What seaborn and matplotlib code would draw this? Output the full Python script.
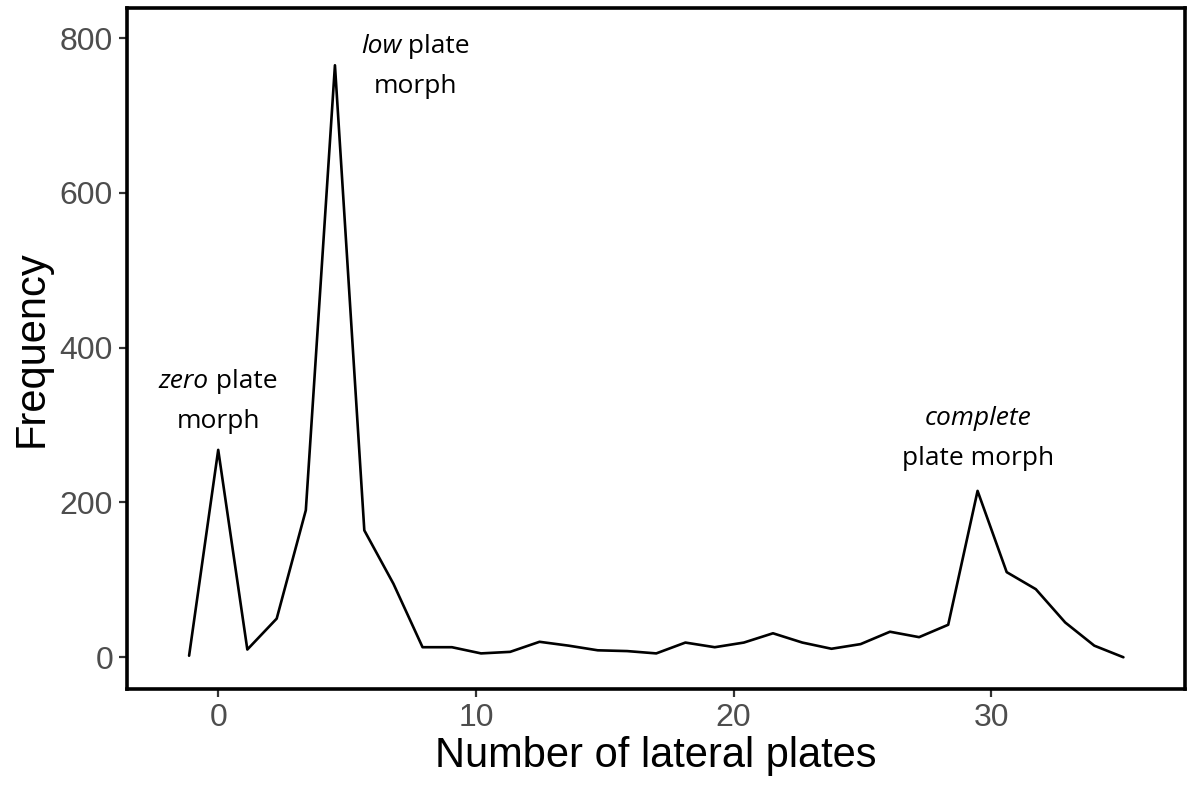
import matplotlib
matplotlib.use("Agg")
import matplotlib.pyplot as plt
import seaborn as sns
import pandas as pd

# Frequency polygon of lateral plate counts (bin centres)
plate_bins = [-1.13, 0.00, 1.13, 2.27, 3.40, 4.53, 5.67, 6.80, 7.93, 9.07,
              10.20, 11.33, 12.47, 13.60, 14.73, 15.87, 17.00, 18.13, 19.27,
              20.40, 21.53, 22.67, 23.80, 24.93, 26.07, 27.20, 28.33, 29.47,
              30.60, 31.73, 32.87, 34.00, 35.13]
frequency = [2, 268, 10, 50, 190, 765, 164, 95, 13, 13,
             5, 7, 20, 15, 9, 8, 5, 19, 13,
             19, 31, 19, 11, 17, 33, 26, 42, 215,
             110, 88, 45, 15, 0]

x_ticks = [0, 10, 20, 30]
y_ticks = [0, 200, 400, 600, 800]

# Morph labels: (x, y, italic word, rest of first line, second line)
morph_labels = [
    (0.0, 331, "zero", " plate", "morph"),
    (7.65, 763, "low", " plate", "morph"),
    (29.5, 283, "complete", "", "plate morph"),
]

df = pd.DataFrame({"plates": plate_bins, "freq": frequency})

sns.set_theme(style="white")
plt.rcParams["font.family"] = ["Liberation Sans", "DejaVu Sans"]

fig = plt.figure(figsize=(11.92, 7.89), dpi=100)
ax = fig.add_axes([127 / 1192, 1 - 689 / 789, (1185 - 127) / 1192, (689 - 8) / 789])

sns.lineplot(data=df, x="plates", y="freq", color="black", linewidth=1.9, ax=ax)

ax.set_xlim(-3.54, 37.52)
ax.set_ylim(-41, 839)
ax.set_xticks(x_ticks)
ax.set_yticks(y_ticks)
ax.tick_params(axis="both", which="both", length=6, width=1.6, color="#333333",
               labelsize=23, labelcolor="#4D4D4D", pad=4, bottom=True, left=True)

for side in ax.spines.values():
    side.set_color("black")
    side.set_linewidth(2.6)

ax.set_xlabel("Number of lateral plates", fontsize=30, labelpad=2, color="black")
ax.set_ylabel("Frequency", fontsize=30, labelpad=6, color="black")

# Annotation text, first line partly italic
ann_font = ["Open Sans", "DejaVu Sans"]
fs = 19
for xc, yc, ital, rest, line2 in morph_labels:
    # measure widths so the mixed-style first line stays centred
    t1 = ax.text(0, 0, ital, fontsize=fs, style="italic", family=ann_font)
    t2 = ax.text(0, 0, rest, fontsize=fs, family=ann_font)
    fig.canvas.draw()
    r = fig.canvas.get_renderer()
    w1 = t1.get_window_extent(r).width
    w2 = t2.get_window_extent(r).width if rest else 0
    t1.remove()
    t2.remove()
    cx, cy = ax.transData.transform((xc, yc))
    line_gap = 20
    left = cx - (w1 + w2) / 2
    ax.text(left, cy + line_gap, ital, fontsize=fs, style="italic", family=ann_font,
            ha="left", va="center", color="black", transform=None)
    if rest:
        ax.text(left + w1, cy + line_gap, rest, fontsize=fs, family=ann_font,
                ha="left", va="center", color="black", transform=None)
    ax.text(cx, cy - line_gap, line2, fontsize=fs, family=ann_font,
            ha="center", va="center", color="black", transform=None)

fig.savefig("out.png", dpi=100)
